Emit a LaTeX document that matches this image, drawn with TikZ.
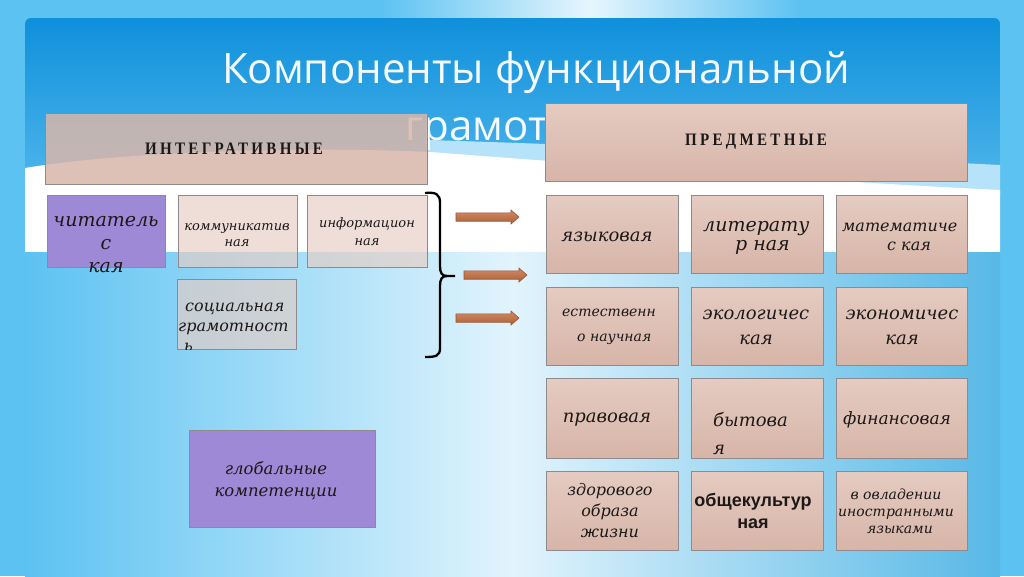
\documentclass[tikz,border=0pt]{standalone}
\usepackage{fontspec}
\usepackage{graphicx}
\setmainfont{DejaVu Serif}
\newfontfamily\titlefont{Open Sans}
\newfontfamily\headfont[LetterSpace=22]{Liberation Serif}
\newfontfamily\sansbody{Liberation Sans}
\definecolor{bgblue}{HTML}{5CC2F2}
\definecolor{paneltop}{HTML}{0F90DB}
\definecolor{panelbot}{HTML}{6CC6F2}
\definecolor{pinkT}{HTML}{E5CBC1}
\definecolor{pinkB}{HTML}{D7B5A8}
\definecolor{softpink}{HTML}{E6CDC3}
\definecolor{headpink}{HTML}{D9B7AA}
\definecolor{purp}{HTML}{9D89D5}
\definecolor{bordc}{HTML}{8E8A8E}
\definecolor{txtc}{HTML}{1C1818}
\definecolor{arrowc}{HTML}{C46E40}
\definecolor{arrowd}{HTML}{98532F}
\newcommand\fz[2]{\fontsize{#1}{#2}\selectfont\itshape}
\begin{document}
\begin{tikzpicture}[x=1pt,y=-1pt,
  gridbox/.style={draw=bordc, line width=0.5pt, top color=pinkT, bottom color=pinkB, anchor=north west, inner sep=0pt},
  softbox/.style={draw=bordc, line width=0.5pt, fill=softpink, fill opacity=0.65, anchor=north west, inner sep=0pt},
  purpbox/.style={draw=bordc, line width=0.5pt, fill=purp, anchor=north west, inner sep=0pt},
  tx/.style={text=txtc, inner sep=0pt},
  blockarrow/.style={top color=arrowc!80!white, bottom color=arrowc!88!black, draw=arrowd, line width=0.6pt, line join=miter},
  headtext/.style={text=txtc, inner sep=0pt, font=\headfont\bfseries\fontsize{17.5}{20}\selectfont}
]
\useasboundingbox (0,0) rectangle (1024,576);
% background
\fill[bgblue] (0,0) rectangle (1024,576);
\shade[left color=bgblue, right color=bgblue, middle color=white!85!bgblue] (380,0) rectangle (800,18);
\shade[top color=paneltop, bottom color=panelbot, rounded corners=6pt] (25,262) -- (25,18) -- (1000,18) -- (1000,262) -- cycle;
\fill[white!55!bgblue] (427,140) .. controls (600,145) and (800,155) .. (1000,165) -- (1000,196) -- (427,156) -- cycle;
\fill[white] (25,252) -- (25,168) .. controls (120,152) and (300,146) .. (430,152) .. controls (600,165) and (800,180) .. (1000,190) -- (1000,252) -- cycle;
\shade[left color=bgblue, right color=bgblue!95!black, middle color=white!82!bgblue] (25,252) rectangle (1000,576);
% title
\node[anchor=base, text=white, text opacity=0.95, inner sep=0pt, font=\titlefont\fontsize{42}{50}\selectfont] (title1) at (536,83) {Компоненты функциональной};
\node[anchor=base, text=white, text opacity=0.95, inner sep=0pt, font=\titlefont\fontsize{42}{50}\selectfont] (title2) at (536,140) {грамотности};
% header boxes
\node[draw=bordc, line width=0.5pt, fill=headpink, fill opacity=0.85, anchor=north west, inner sep=0pt, minimum width=382pt, minimum height=71pt] (integ) at (45,113) {};
\node[headtext] (integ-t) at (234,149) {\scalebox{0.86}[1]{ИНТЕГРАТИВНЫЕ}};
\node[gridbox, minimum width=422pt, minimum height=78pt] (pred) at (545,103) {};
\node[headtext] (pred-t) at (756,142) {\scalebox{0.86}[1]{ПРЕДМЕТНЫЕ}};
% left boxes
\node[purpbox, minimum width=118pt, minimum height=72pt] (read) at (47,195) {};
\node[tx, align=center, font=\fz{19}{23}] (read-t) at (106,245) {читатель\\с\\кая};
\node[softbox, minimum width=119pt, minimum height=72pt] (comm) at (178,195) {};
\node[tx, align=center, font=\fz{13}{16}] (comm-t) at (237,235) {коммуникатив\\ная};
\node[softbox, minimum width=120pt, minimum height=72pt] (info) at (307,195) {};
\node[tx, align=center, font=\fz{13}{18}] (info-t) at (367,232) {информацион\\ная};
\node[softbox, minimum width=119pt, minimum height=70pt] (soc) at (177,279) {};
\begin{scope}
\clip (177,279) rectangle (296,349);
\node[tx, align=left, anchor=west, font=\fz{16}{20}] (soc-t) at (178,327) {\hspace*{7pt}социальная\\грамотност\\\hspace*{6pt}ь};
\end{scope}
\node[purpbox, minimum width=186pt, minimum height=97pt] (glob) at (189,430) {};
\node[tx, align=center, font=\fz{16.5}{22}] (glob-t) at (276,481) {глобальные\\компетенции};
% brace
\draw[line width=2.3pt, black] (425,193) .. controls (436,192) and (440,194) .. (440,203) -- (440,266) .. controls (440,273) and (442,276) .. (447,276) -- (455,276);
\draw[line width=2.3pt, black] (447,276) .. controls (442,276) and (440,279) .. (440,286) -- (440,348) .. controls (440,356) and (436,357) .. (425,357);
% arrows
\coordinate (arr1) at (456,217);
\coordinate (arr2) at (464,275);
\coordinate (arr3) at (456,318);
\foreach \a in {arr1,arr2,arr3}{
  \path[blockarrow] (\a) ++(0,-4.2) -- ++(55,0) -- ++(0,-2.8) -- ++(8,7) -- ++(-8,7) -- ++(0,-2.8) -- ++(-55,0) -- cycle;
}
% right grid
\node[gridbox, minimum width=132pt, minimum height=78pt] (lang) at (546,195) {};
\node[gridbox, minimum width=132pt, minimum height=78pt] (lit) at (691,195) {};
\node[gridbox, minimum width=131pt, minimum height=78pt] (math) at (836,195) {};
\node[gridbox, minimum width=132pt, minimum height=78pt] (nat) at (546,287) {};
\node[gridbox, minimum width=132pt, minimum height=78pt] (eco) at (691,287) {};
\node[gridbox, minimum width=131pt, minimum height=78pt] (econ) at (836,287) {};
\node[gridbox, minimum width=132pt, minimum height=80pt] (law) at (546,378) {};
\node[gridbox, minimum width=132pt, minimum height=80pt] (daily) at (691,378) {};
\node[gridbox, minimum width=131pt, minimum height=80pt] (fin) at (836,378) {};
\node[gridbox, minimum width=132pt, minimum height=79pt] (health) at (546,471) {};
\node[gridbox, minimum width=132pt, minimum height=79pt] (cult) at (691,471) {};
\node[gridbox, minimum width=131pt, minimum height=79pt] (lng) at (836,471) {};
\node[tx, font=\fz{18}{22}] (lang-t) at (607,237) {языковая};
\node[tx, align=left, anchor=west, font=\fz{19}{19}] (lit-t) at (703,238) {литерату\\\hspace*{32pt}р ная};
\node[tx, align=left, anchor=west, font=\fz{16}{19}] (math-t) at (842,237) {математиче\\\hspace*{45pt}с кая};
\node[tx, align=left, anchor=west, font=\fz{14}{25}] (nat-t) at (562,327) {естественн\\\hspace*{15pt}о научная};
\node[tx, align=center, font=\fz{18}{25}] (eco-t) at (756,327) {экологичес\\кая};
\node[tx, align=center, font=\fz{18}{25}] (econ-t) at (902,327) {экономичес\\кая};
\node[tx, font=\fz{18}{22}] (law-t) at (607,420) {правовая};
\node[tx, align=left, anchor=west, font=\fz{18}{28}] (daily-t) at (713,434) {бытова\\я};
\node[tx, font=\fz{17}{22}] (fin-t) at (897,420) {финансовая};
\node[tx, align=center, font=\fz{16}{21}] (health-t) at (610,511) {здорового\\образа\\жизни};
\node[tx, align=center, font=\sansbody\bfseries\fontsize{18}{22}\selectfont] (cult-t) at (753,511) {общекультур\\ная};
\node[tx, align=center, font=\fz{14}{17}] (lng-t) at (896,511) {в овладении\\иностранными\\\hspace*{8pt}языками};
\end{tikzpicture}
\end{document}
